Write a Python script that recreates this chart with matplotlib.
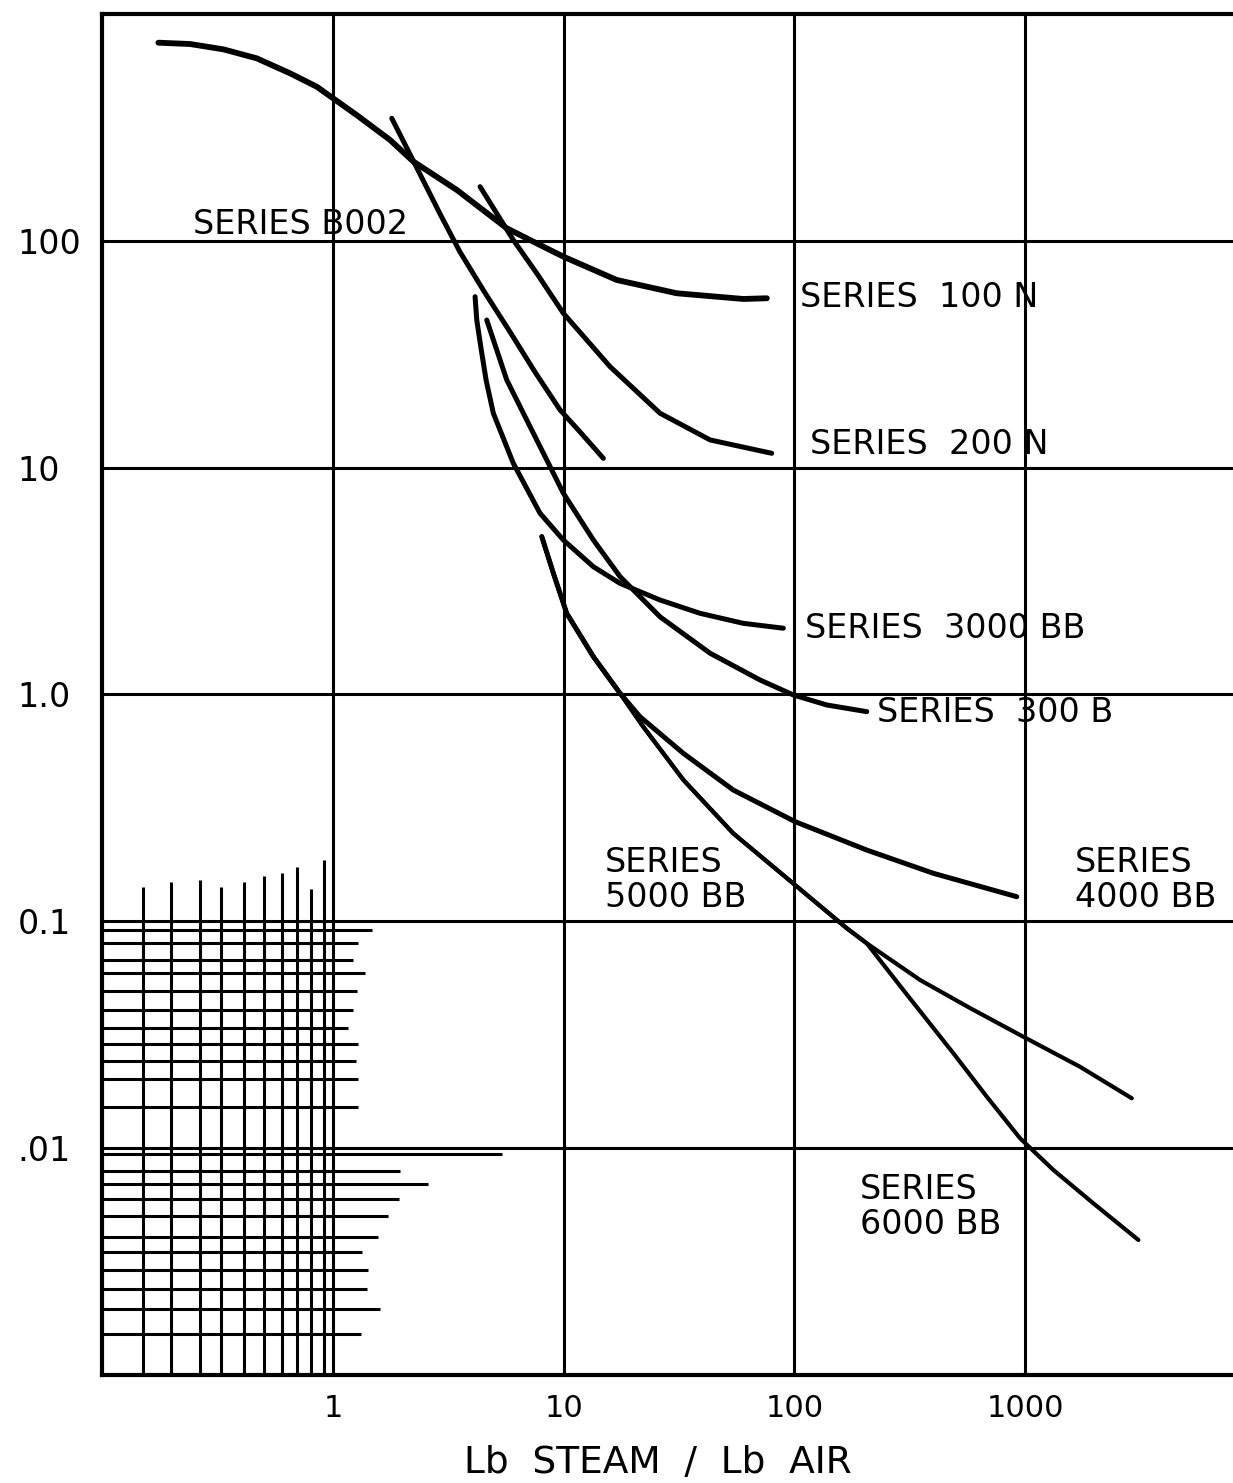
import matplotlib
matplotlib.use('Agg')
import matplotlib.pyplot as plt

# curves (x = lb steam / lb air)
x_100n = [0.175, 0.240, 0.335, 0.467, 0.651, 0.850, 1.00, 1.267, 1.766, 2.229, 3.437, 5.66, 7.89, 9.96, 16.97, 30.9, 60.0, 75.9]
y_100n = [749, 739, 700, 639, 549, 479, 426, 359, 279, 224, 168, 113.8, 96.0, 85.3, 67.3, 58.8, 55.5, 55.9]

x_b002 = [1.797, 2.229, 2.910, 3.551, 4.559, 5.85, 7.51, 9.64, 11.77, 14.85]
y_b002 = [347.6, 225.4, 131.6, 89.4, 59.0, 39.7, 26.4, 17.98, 14.38, 11.0]

x_200n = [4.337, 6.045, 7.64, 9.96, 15.88, 26.15, 43.1, 79.7]
y_200n = [173.6, 101, 72.0, 48.0, 27.9, 17.39, 13.26, 11.58]

x_3000bb = [4.127, 4.197, 4.368, 4.605, 4.952, 6.045, 7.89, 9.96, 13.44, 17.54, 26.15, 38.98, 60.0, 89.5]
y_3000bb = [56.8, 44.8, 34.2, 24.4, 17.39, 10.46, 6.30, 4.80, 3.66, 3.09, 2.61, 2.28, 2.06, 1.96]

x_300b = [4.637, 5.66, 6.91, 8.44, 9.96, 13.44, 17.54, 26.15, 43.1, 70.9, 98.9, 138, 205.8]
y_300b = [44.8, 24.4, 16.24, 10.82, 7.72, 4.80, 3.31, 2.20, 1.52, 1.159, 0.995, 0.899, 0.840]

x_4000bb = [8.03, 9.02, 10.3, 13.44, 17.54, 21.4, 33.0, 54.3, 100.6, 205.8, 400, 919]
y_4000bb = [4.97, 3.42, 2.28, 1.468, 1.012, 0.798, 0.550, 0.379, 0.275, 0.206, 0.1627, 0.1283]

x_5000bb = [8.03, 9.02, 10.3, 13.44, 17.54, 22.1, 33.0, 54.3, 100.6, 168.6, 205.8, 350, 577, 950, 1730, 2898]
y_5000bb = [4.97, 3.42, 2.28, 1.468, 1.012, 0.721, 0.420, 0.244, 0.1445, 0.0931, 0.0799, 0.0551, 0.0414, 0.0315, 0.0228, 0.01657]

x_6000bb = [8.03, 9.02, 10.3, 13.44, 17.54, 22.1, 33.0, 54.3, 100.6, 168.6, 205.8, 296.5, 488.5, 681.7, 950, 1325, 1975, 3095]
y_6000bb = [4.97, 3.42, 2.28, 1.468, 1.012, 0.721, 0.420, 0.244, 0.1445, 0.0931, 0.0799, 0.0497, 0.02616, 0.01684, 0.01104, 0.0080, 0.0057, 0.00393]

# the little hand ruled grid in the lower left corner
mini_vx = [0.150, 0.199, 0.265, 0.327, 0.411, 0.502, 0.601, 0.698, 0.803, 0.914]
mini_vtop = [0.1415, 0.149, 0.152, 0.1415, 0.149, 0.158, 0.163, 0.173, 0.139, 0.186]
mini_hy = [0.0915, 0.0802, 0.0675, 0.0591, 0.0492, 0.0406, 0.0338, 0.0288, 0.0242, 0.0202, 0.0152,
           0.00942, 0.00793, 0.00694, 0.00596, 0.00501, 0.00405, 0.00348, 0.00290, 0.00239, 0.00195, 0.00151]
mini_hright = [1.48, 1.28, 1.22, 1.38, 1.27, 1.22, 1.16, 1.28, 1.26, 1.28, 1.28,
               5.40, 1.95, 2.58, 1.93, 1.73, 1.57, 1.34, 1.42, 1.40, 1.60, 1.32]

xticks = [1, 10, 100, 1000]
xticklabels = ['1', '10', '100', '1000']
yticks = [0.01, 0.1, 1, 10, 100]
yticklabels = ['.01', '0.1', '1.0', '10', '100']

fig = plt.figure(figsize=(12.33, 14.83), dpi=100)
ax = fig.add_axes([0.083, 0.073, 0.927, 0.9174])
ax.set_xscale('log')
ax.set_yscale('log')
ax.set_xlim(0.1, 9000)
ax.set_ylim(0.001, 1000)
ax.minorticks_off()

ax.set_xticks(xticks)
ax.set_xticklabels(xticklabels)
ax.set_yticks(yticks)
ax.set_yticklabels(yticklabels)
ax.grid(True, color='black', lw=2.2)
ax.set_axisbelow(True)

for s in ax.spines.values():
    s.set_linewidth(3)
ax.tick_params(length=0)
ax.tick_params(axis='x', pad=14, labelsize=22)
ax.tick_params(axis='y', pad=61, labelsize=24)
for lbl in ax.get_yticklabels():
    lbl.set_horizontalalignment('left')

# mini grid
ax.vlines(mini_vx, 0.001, mini_vtop, color='black', lw=2.2)
ax.hlines(mini_hy, 0.1, mini_hright, color='black', lw=2.2)

kw = dict(color='black', lw=3.6, solid_capstyle='round', solid_joinstyle='round')
ax.plot(x_100n, y_100n, **dict(kw, lw=4.2))
ax.plot(x_b002, y_b002, **kw)
ax.plot(x_200n, y_200n, **kw)
ax.plot(x_3000bb, y_3000bb, **kw)
ax.plot(x_300b, y_300b, **kw)
ax.plot(x_4000bb, y_4000bb, **kw)
ax.plot(x_5000bb, y_5000bb, **dict(kw, lw=3.0))
ax.plot(x_6000bb, y_6000bb, **dict(kw, lw=3.0))

tk = dict(fontsize=24, ha='left', va='center', linespacing=1.05)
ax.text(0.247, 118, 'SERIES B002', **tk)
ax.text(106, 56.1, 'SERIES  100 N', **tk)
ax.text(117, 12.6, 'SERIES  200 N', **tk)
ax.text(111, 1.96, 'SERIES  3000 BB', **tk)
ax.text(228, 0.829, 'SERIES  300 B', **tk)
ax.text(15.1, 0.152, 'SERIES\n5000 BB', **tk)
ax.text(1645, 0.152, 'SERIES\n4000 BB', **tk)
ax.text(192, 0.0055, 'SERIES\n6000 BB', **tk)

ax.set_xlabel('Lb  STEAM  /  Lb  AIR', fontsize=27)
ax.xaxis.set_label_coords((658 - 102.3) / 1143, -0.052)

fig.savefig('out.png', dpi=100)
